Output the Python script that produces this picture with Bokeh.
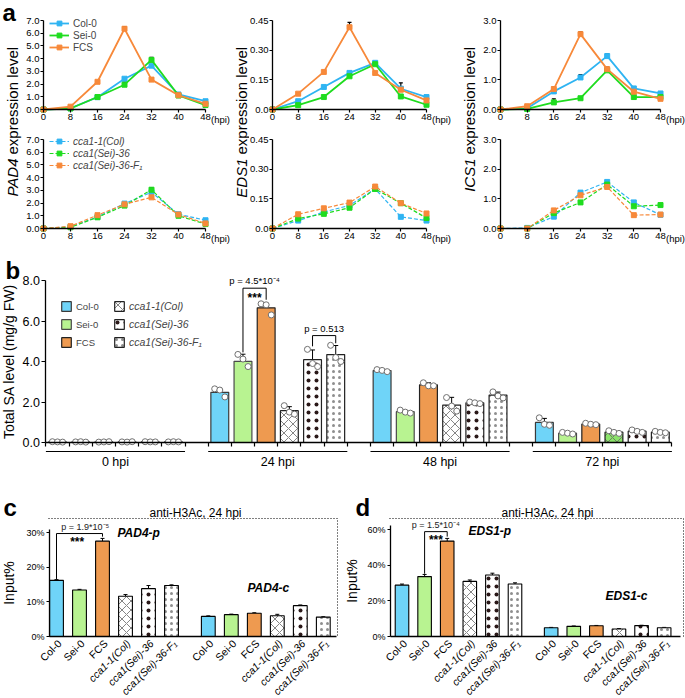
import math
from bokeh.plotting import figure
from bokeh.models import (ColumnDataSource, Label, Legend, LegendItem, Whisker, TeeHead,
                          FixedTicker, Range1d, PrintfTickFormatter, CustomJSTickFormatter)
from bokeh.layouts import row, column
from bokeh.embed import file_html
from bokeh.resources import INLINE
from bokeh.core.properties import value

# ---------------- panel a : expression time courses ----------------
hpi = [0, 8, 16, 24, 32, 40, 48]
wt_names = ["Col-0", "Sei-0", "FCS"]
mut_names = ["cca1-1(Col)", "cca1(Sei)-36", "cca1(Sei)-36-F₁"]

pad4_col0 = [0.0, 0.10, 0.97, 2.42, 3.45, 1.18, 0.65]
pad4_sei0 = [0.0, 0.08, 0.98, 1.95, 3.90, 1.10, 0.35]
pad4_fcs = [0.0, 0.22, 2.18, 6.35, 2.35, 1.12, 0.45]
pad4_col0_err = [0, 0, 0, 0.05, 0.10, 0, 0.05]
pad4_sei0_err = [0, 0, 0, 0.20, 0.20, 0, 0]
pad4_fcs_err = [0, 0, 0.05, 0.15, 0.15, 0, 0]
pad4_cca11 = [0.0, 0.13, 0.91, 1.96, 2.85, 1.12, 0.65]
pad4_sei36 = [0.0, 0.10, 0.88, 1.80, 3.05, 1.00, 0.35]
pad4_f1 = [0.0, 0.18, 1.05, 1.90, 2.45, 1.10, 0.40]
pad4_cca11_err = [0, 0, 0, 0, 0.05, 0, 0.05]
pad4_sei36_err = [0, 0, 0, 0, 0.15, 0, 0]
pad4_f1_err = [0, 0, 0, 0, 0, 0, 0]

eds1_col0 = [0.0, 0.042, 0.114, 0.185, 0.236, 0.105, 0.063]
eds1_sei0 = [0.0, 0.022, 0.063, 0.168, 0.229, 0.066, 0.024]
eds1_fcs = [0.0, 0.080, 0.190, 0.416, 0.185, 0.100, 0.046]
eds1_col0_err = [0, 0, 0.005, 0, 0, 0.030, 0]
eds1_sei0_err = [0, 0, 0, 0, 0, 0.005, 0]
eds1_fcs_err = [0, 0, 0, 0.025, 0, 0, 0]
eds1_cca11 = [0.0, 0.040, 0.083, 0.117, 0.200, 0.059, 0.040]
eds1_sei36 = [0.0, 0.050, 0.074, 0.105, 0.200, 0.128, 0.053]
eds1_f1 = [0.0, 0.072, 0.102, 0.131, 0.212, 0.128, 0.076]
eds1_cca11_err = [0, 0, 0, 0, 0, 0, 0]
eds1_sei36_err = [0, 0, 0, 0, 0, 0, 0]
eds1_f1_err = [0, 0, 0.008, 0, 0, 0, 0]

ics1_col0 = [0.0, 0.04, 0.61, 1.08, 1.80, 0.71, 0.54]
ics1_sei0 = [0.0, 0.02, 0.24, 0.38, 1.32, 0.42, 0.42]
ics1_fcs = [0.0, 0.11, 0.69, 2.54, 1.36, 0.60, 0.36]
ics1_col0_err = [0, 0, 0, 0.10, 0.08, 0, 0]
ics1_sei0_err = [0, 0, 0.12, 0, 0, 0, 0]
ics1_fcs_err = [0, 0, 0.08, 0.08, 0.07, 0, 0]
ics1_cca11 = [0.0, 0.02, 0.40, 1.21, 1.57, 0.88, 0.46]
ics1_sei36 = [0.0, 0.00, 0.52, 0.88, 1.48, 0.75, 0.79]
ics1_f1 = [0.0, 0.00, 0.61, 1.12, 1.40, 0.45, 0.47]
ics1_cca11_err = [0, 0, 0, 0, 0, 0, 0]
ics1_sei36_err = [0, 0, 0, 0, 0, 0, 0]
ics1_f1_err = [0, 0, 0, 0, 0, 0, 0]

# ---------------- panel b : total SA ----------------
sa_times = ["0 hpi", "24 hpi", "48 hpi", "72 hpi"]
sa_names = ["Col-0", "Sei-0", "FCS", "cca1-1(Col)", "cca1(Sei)-36", "cca1(Sei)-36-F₁"]
sa_col0 = [0.03, 2.48, 3.55, 0.99]
sa_sei0 = [0.03, 4.01, 1.52, 0.46]
sa_fcs = [0.03, 6.65, 2.85, 0.91]
sa_cca11 = [0.03, 1.57, 1.85, 0.51]
sa_sei36 = [0.03, 4.09, 1.96, 0.56]
sa_f1 = [0.03, 4.34, 2.34, 0.51]
sa_col0_err = [0.01, 0.12, 0.04, 0.20]
sa_sei0_err = [0.01, 0.35, 0.06, 0.04]
sa_fcs_err = [0.01, 0.18, 0.10, 0.04]
sa_cca11_err = [0.01, 0.20, 0.38, 0.05]
sa_sei36_err = [0.01, 0.48, 0.05, 0.06]
sa_f1_err = [0.01, 0.45, 0.15, 0.04]
sa_col0_reps = [[0.04, 0.03, 0.02], [2.65, 2.59, 2.25], [3.60, 3.56, 3.50], [1.22, 0.90, 0.85]]
sa_sei0_reps = [[0.03, 0.04, 0.02], [4.35, 4.12, 3.75], [1.60, 1.50, 1.45], [0.50, 0.46, 0.42]]
sa_fcs_reps = [[0.02, 0.03, 0.04], [6.85, 6.80, 6.30], [2.95, 2.80, 2.80], [0.95, 0.90, 0.88]]
sa_cca11_reps = [[0.03, 0.02, 0.04], [1.82, 1.50, 1.40], [2.22, 1.80, 1.55], [0.58, 0.50, 0.45]]
sa_sei36_reps = [[0.04, 0.03, 0.03], [4.60, 3.90, 3.75], [2.00, 1.96, 1.92], [0.62, 0.55, 0.50]]
sa_f1_reps = [[0.03, 0.04, 0.03], [4.80, 4.20, 4.00], [2.50, 2.30, 2.20], [0.55, 0.50, 0.48]]

# ---------------- panels c, d : ChIP ----------------
chip_names = ["Col-0", "Sei-0", "FCS", "cca1-1(Col)", "cca1(Sei)-36", "cca1(Sei)-36-F₁"]
pad4_p = [16.2, 13.4, 27.5, 11.6, 13.8, 14.7]
pad4_p_err = [0.2, 0.2, 0.8, 0.5, 0.9, 0.2]
pad4_c = [5.8, 6.3, 6.7, 6.0, 8.9, 5.6]
pad4_c_err = [0.15, 0.15, 0.15, 0.4, 0.2, 0.1]
eds1_p = [28.8, 33.6, 53.5, 30.9, 34.5, 29.4]
eds1_p_err = [0.6, 1.2, 1.5, 0.8, 1.0, 0.7]
eds1_c = [4.9, 5.7, 6.0, 4.2, 6.1, 4.9]
eds1_c_err = [0.2, 0.2, 0.2, 0.2, 0.2, 0.2]

# ---------------- styles ----------------
FONT = "Liberation Sans"
LINE_COLORS = ["#2FB4F2", "#1FDC1F", "#F7893A"]
BAR_FILL = ["#6FD4F8", "#B8F391", "#EE9A50", "white", "white", "white"]
BAR_LINE = ["#3a3a3a", "#4a4a4a", "#222222", "#222222", "#222222", "#222222"]
GREEN_SPECIAL = "#8BE46A"
HATCH = [None, None, None,
         dict(hatch_pattern="diagonal_cross", hatch_color="#666666", hatch_scale=9,
              hatch_weight=0.8),
         dict(hatch_pattern="dot", hatch_color="#2a1818", hatch_scale=8),
         dict(hatch_pattern="dot", hatch_color="#444444", hatch_scale=6, hatch_alpha=0.6)]


def lin_x(W, a, pa, b, pb):
    s = (pb - pa) / (b - a)
    start = a - pa / s
    return Range1d(start, start + W / s), s


def lin_y(H, a, pa, b, pb):
    # pa, pb measured from the top edge; a is drawn lower than b
    s = (pa - pb) / (b - a)
    end = a + pa / s
    return Range1d(end - H / s, end), s


def style_axis(ax, size, standoff=1, tick_out=3):
    ax.axis_line_color = "black"
    ax.axis_line_width = 1.3
    ax.major_tick_line_color = "black"
    ax.major_tick_line_width = 1.2
    ax.major_tick_out = tick_out
    ax.major_tick_in = 0
    ax.minor_tick_line_color = None
    ax.major_label_text_font = FONT
    ax.major_label_text_font_size = size
    ax.major_label_text_color = "black"
    ax.major_label_standoff = standoff


def bare_fig(W, H, **kw):
    p = figure(width=W, height=H, output_backend="svg", toolbar_location=None,
               outline_line_color=None, background_fill_color=None,
               border_fill_color=None, min_border=0, **kw)
    p.xgrid.visible = False
    p.ygrid.visible = False
    return p


def line_fig(x0, x1, fx0, fx1, y0, y1, fy0, fy1, ymax, yticks, yfmt,
             series, errs, names, dashed, legend_pos):
    W = x1 - x0
    H = y1 - y0
    xr, sx = lin_x(W, 0, fx0 - x0, 48, fx1 - x0)
    yr, sy = lin_y(H, 0, fy1 - y0, ymax, fy0 - y0)
    p = bare_fig(W, H, x_range=xr, y_range=yr)
    xa = p.xaxis[0]
    ya = p.yaxis[0]
    style_axis(xa, "9.5px")
    style_axis(ya, "9.5px")
    xa.fixed_location = 0
    ya.fixed_location = 0
    xa.bounds = (0, 48)
    ya.bounds = (0, ymax)
    xa.ticker = FixedTicker(ticks=hpi)
    ya.ticker = FixedTicker(ticks=yticks)
    ya.formatter = PrintfTickFormatter(format=yfmt)
    ya.major_label_overrides = {0: "0.0"}
    items = []
    for vals, err, color, name in zip(series, errs, LINE_COLORS, names):
        src = ColumnDataSource(dict(x=hpi, y=vals))
        ln = p.line("x", "y", source=src, line_color=color,
                    line_width=1.2 if dashed else 1.8,
                    line_dash="4 2" if dashed else "solid")
        mk = p.scatter("x", "y", source=src, marker="square", size=5,
                       fill_color=color, line_color=color)
        items.append(LegendItem(label=value(name), renderers=[ln, mk]))
        ex = [h for h, e in zip(hpi, err) if e > 0]
        if ex:
            es = ColumnDataSource(dict(
                x=ex,
                lo=[v for v, e in zip(vals, err) if e > 0],
                hi=[v + e for v, e in zip(vals, err) if e > 0]))
            p.add_layout(Whisker(source=es, base="x", lower="lo", upper="hi",
                                 dimension="height", line_color="black", line_width=1.2,
                                 upper_head=TeeHead(size=4, line_color="black", line_width=1.2),
                                 lower_head=None))
    if legend_pos is not None:
        lg = Legend(items=items, location=legend_pos, padding=0, margin=0,
                    spacing=0, glyph_width=20, glyph_height=12, label_height=12,
                    label_standoff=4, label_text_font=FONT, label_text_font_size="10px",
                    label_text_font_style="italic" if dashed else "normal",
                    background_fill_alpha=0, border_line_alpha=0)
        p.add_layout(lg)
    p.add_layout(Label(x=48 + 5.5 / sx, y=-4 / sy, text="(hpi)",
                       text_align="left", text_baseline="top", text_font=FONT,
                       text_font_size="9.5px", text_color="black"))
    return p


def gene_label_fig(x0, x1, cx, gene, letter=None):
    W = x1 - x0
    H = 248
    p = bare_fig(W, H, x_range=Range1d(0, W), y_range=Range1d(0, H),
                 x_axis_location=None, y_axis_location=None)
    ysplit = H - 158
    p.add_layout(Label(x=cx - x0, y=ysplit, text=gene, angle=math.pi / 2, text_align="right",
                       text_baseline="middle", text_font=FONT, text_font_size="15px",
                       text_font_style="italic", text_color="black"))
    p.add_layout(Label(x=cx - x0, y=ysplit + 4, text="expression level", angle=math.pi / 2,
                       text_align="left", text_baseline="middle", text_font=FONT,
                       text_font_size="15px", text_color="black"))
    if letter:
        p.add_layout(Label(x=2, y=H + 2, text=letter, text_align="left",
                           text_baseline="top", text_font=FONT, text_font_size="24px",
                           text_font_style="bold", text_color="black"))
    return p


# ---- panel a figures
TOP = (0, 125, 20, 109)
BOT = (125, 248, 139, 228)
genes = [
    ("PAD4", 0, 22, 12, (22, 232, 43, 205), 7.0, list(range(8)), "%.1f",
     [pad4_col0, pad4_sei0, pad4_fcs], [pad4_col0_err, pad4_sei0_err, pad4_fcs_err],
     [pad4_cca11, pad4_sei36, pad4_f1], [pad4_cca11_err, pad4_sei36_err, pad4_f1_err]),
    ("EDS1", 232, 249, 241, (249, 455, 272, 426), 0.45, [0, 0.15, 0.3, 0.45], "%.2f",
     [eds1_col0, eds1_sei0, eds1_fcs], [eds1_col0_err, eds1_sei0_err, eds1_fcs_err],
     [eds1_cca11, eds1_sei36, eds1_f1], [eds1_cca11_err, eds1_sei36_err, eds1_f1_err]),
    ("ICS1", 455, 482, 469, (482, 685, 500, 660), 3.0, [0, 1, 2, 3], "%.1f",
     [ics1_col0, ics1_sei0, ics1_fcs], [ics1_col0_err, ics1_sei0_err, ics1_fcs_err],
     [ics1_cca11, ics1_sei36, ics1_f1], [ics1_cca11_err, ics1_sei36_err, ics1_f1_err]),
]
row_a = []
for gi, (gene, lx0, lx1, cx, (x0, x1, fx0, fx1), ymax, yt, fmt, wt, wte, mu, mue) in enumerate(genes):
    row_a.append(gene_label_fig(lx0, lx1, cx, gene, "a" if gi == 0 else None))
    top = line_fig(x0, x1, fx0, fx1, *TOP, ymax, yt, fmt, wt, wte,
                   wt_names, False, (49 - x0, 125 - 53) if gi == 0 else None)
    bot = line_fig(x0, x1, fx0, fx1, *BOT, ymax, yt, fmt, mu, mue,
                   mut_names, True, (49 - x0, 248 - 171) if gi == 0 else None)
    row_a.append(column(top, bot))

# ---- panel b  (figure spans page y 248..470)
bW, bH = 685, 222
GROUP = 7
SLOT = 23.185
bxr, bsx = lin_x(bW, 0, 57, 26, 57 + 26 * SLOT)
byr, bsy = lin_y(bH, 0, 442 - 248, 8, 280 - 248)
pb = bare_fig(bW, bH, x_range=bxr, y_range=byr)
sa_vals = [sa_col0, sa_sei0, sa_fcs, sa_cca11, sa_sei36, sa_f1]
sa_errs = [sa_col0_err, sa_sei0_err, sa_fcs_err, sa_cca11_err, sa_sei36_err, sa_f1_err]
sa_reps = [sa_col0_reps, sa_sei0_reps, sa_fcs_reps, sa_cca11_reps, sa_sei36_reps, sa_f1_reps]
REP_OFF = [-0.22, 0.0, 0.22]
bar_r = []
for j, name in enumerate(sa_names):
    xs = [t * GROUP + j for t in range(len(sa_times))]
    fills = [BAR_FILL[j]] * len(sa_times)
    if j == 3:
        fills[3] = GREEN_SPECIAL
    src = ColumnDataSource(dict(x=xs, top=sa_vals[j], fill=fills))
    kw = HATCH[j] or {}
    r = pb.vbar(x="x", top="top", bottom=0, width=0.77, source=src, fill_color="fill",
                line_color=BAR_LINE[j], line_width=1.2, **kw)
    bar_r.append(r)
    es = ColumnDataSource(dict(x=xs, lo=sa_vals[j],
                               hi=[v + e for v, e in zip(sa_vals[j], sa_errs[j])]))
    pb.add_layout(Whisker(source=es, base="x", lower="lo", upper="hi", dimension="height",
                          line_color="black", line_width=1,
                          upper_head=TeeHead(size=5, line_color="black", line_width=1),
                          lower_head=None))
    rx, ry = [], []
    for t in range(len(sa_times)):
        for k, v in enumerate(sa_reps[j][t]):
            rx.append(xs[t] + REP_OFF[k])
            ry.append(v)
    pb.scatter(rx, ry, marker="circle", size=6, fill_color="white", line_color="#707070",
               line_width=1)

xa = pb.xaxis[0]
ya = pb.yaxis[0]
style_axis(xa, "11px", standoff=3, tick_out=4)
style_axis(ya, "12.5px", standoff=2, tick_out=4)
xa.fixed_location = 0
xa.bounds = (-0.5, 26.5)
xa.ticker = FixedTicker(ticks=[t * GROUP + j - 0.5 for t in range(4) for j in range(7)])
xa.formatter = CustomJSTickFormatter(code="return ''")
ya.fixed_location = -0.5
ya.ticker = FixedTicker(ticks=[0, 2, 4, 6, 8])
ya.formatter = PrintfTickFormatter(format="%.1f")
ya.bounds = (0, 8)
ya.axis_label = "Total SA level (mg/g FW)"
ya.axis_label_text_font = FONT
ya.axis_label_text_font_size = "14px"
ya.axis_label_text_font_style = "normal"
ya.axis_label_standoff = 2
ya.axis_label_text_color = "black"

gsrc = ColumnDataSource(dict(x0=[t * GROUP - 0.5 for t in range(4)],
                             x1=[t * GROUP + 5.5 for t in range(4)],
                             xc=[t * GROUP + 2.5 for t in range(4)],
                             y=[-9 / bsy] * 4, yt=[-12 / bsy] * 4, t=sa_times))
pb.segment(x0="x0", y0="y", x1="x1", y1="y", source=gsrc, line_color="black", line_width=1.2)
pb.text(x="xc", y="yt", text="t", source=gsrc, text_font=value(FONT),
        text_font_size="12.5px", text_align="center", text_baseline="top", text_color="black")

# significance brackets
s1a, s1b = 1 * GROUP + 1, 1 * GROUP + 2
pb.multi_line([[s1a, s1a, s1b, s1b]], [[4.45, 7.62, 7.62, 7.05]], line_color="black",
              line_width=1)
pb.add_layout(Label(x=(s1a + s1b) / 2, y=7.5, text="***", text_align="center",
                    text_baseline="top", text_font=FONT, text_font_size="12px",
                    text_font_style="bold", text_color="black"))
pb.add_layout(Label(x=(s1a + s1b) / 2, y=7.72, text="p = 4.5*10⁻⁴", text_align="center",
                    text_baseline="bottom", text_font=FONT, text_font_size="9.5px",
                    text_color="black"))
s2a, s2b = 1 * GROUP + 4, 1 * GROUP + 5
pb.multi_line([[s2a, s2a, s2b, s2b]], [[4.75, 5.28, 5.28, 4.9]], line_color="black",
              line_width=1)
pb.add_layout(Label(x=(s2a + s2b) / 2, y=5.38, text="p = 0.513", text_align="center",
                    text_baseline="bottom", text_font=FONT, text_font_size="9.5px",
                    text_color="black"))
pb.add_layout(Label(x=(5 - 57) / bsx, y=(442 - 270) / bsy, text="b",
                    text_align="left", text_baseline="alphabetic", text_font=FONT,
                    text_font_size="24px", text_font_style="bold", text_color="black"))

lg_common = dict(padding=0, margin=0, spacing=6, glyph_width=12, glyph_height=12,
                 label_height=12, label_standoff=4, label_text_font=FONT,
                 background_fill_alpha=0, border_line_alpha=0)
lg1 = Legend(items=[LegendItem(label=value(sa_names[j]), renderers=[bar_r[j]], index=0)
                    for j in range(3)],
             location=(60, 470 - 348), label_text_font_size="9.5px", **lg_common)
lg2 = Legend(items=[LegendItem(label=value(sa_names[j]), renderers=[bar_r[j]], index=0)
                    for j in range(3, 6)],
             location=(113, 470 - 348), label_text_font_size="10.5px",
             label_text_font_style="italic", **lg_common)
pb.add_layout(lg1)
pb.add_layout(lg2)

# ---- panels c, d  (figures span page y 470..697)
CHIP_GAP = 6.6
CHIP_H = 227


def chip_fig(letter, x0, x1, c0, spacing, frame_l, frame_r, axis_r, zero_py, ref_val,
             ref_py, ybound, yticks, groups, gerrs, tags, title_px, letter_px, sig,
             label_standoff):
    W = x1 - x0
    xr, sx = lin_x(W, 0, c0 - x0, 1, c0 - x0 + spacing)
    yr, sy = lin_y(CHIP_H, 0, zero_py - 470, ref_val, ref_py - 470)
    p = bare_fig(W, CHIP_H, x_range=xr, y_range=yr)

    def dx(px):
        return (px - c0) / sx

    def dy(py):
        return (zero_py - py) / sy

    # dotted frame (top and right edges)
    p.line([dx(frame_l), dx(frame_r), dx(frame_r)], [dy(518), dy(518), 0],
           line_color="black", line_width=1, line_dash="1 2")
    lab_x, lab_y, lab_t, lab_s = [], [], [], []
    for g, (vals, errs) in enumerate(zip(groups, gerrs)):
        xs = [j + g * CHIP_GAP for j in range(len(chip_names))]
        for j in range(len(chip_names)):
            kw = HATCH[j] or {}
            p.vbar(x=[xs[j]], top=[vals[j]], bottom=0, width=0.6, fill_color=BAR_FILL[j],
                   line_color="black", line_width=1.1, **kw)
        es = ColumnDataSource(dict(x=xs, lo=vals, hi=[v + e for v, e in zip(vals, errs)]))
        p.add_layout(Whisker(source=es, base="x", lower="lo", upper="hi", dimension="height",
                             line_color="black", line_width=1,
                             upper_head=TeeHead(size=4, line_color="black", line_width=1),
                             lower_head=None))
        for j, name in enumerate(chip_names):
            lab_x.append(xs[j] + 3 / sx)
            lab_y.append(-5 / sy)
            lab_t.append(name)
            lab_s.append("italic" if name.startswith("cca1") else "normal")
    p.text(x=lab_x, y=lab_y, text=lab_t, text_font_style=lab_s, angle=math.radians(45),
           text_align="right", text_baseline="middle", text_font=value(FONT),
           text_font_size="10.5px", text_color="black")
    xa = p.xaxis[0]
    ya = p.yaxis[0]
    style_axis(xa, "9px", tick_out=0)
    style_axis(ya, "9px", standoff=2, tick_out=3)
    xa.fixed_location = 0
    xa.bounds = (dx(frame_l + 1), dx(axis_r))
    xa.ticker = FixedTicker(ticks=[])
    ya.fixed_location = dx(frame_l + 1)
    ya.ticker = FixedTicker(ticks=yticks)
    ya.major_label_overrides = {t: f"{t}%" for t in yticks}
    ya.bounds = (0, ybound)
    ya.axis_label = "Input%"
    ya.axis_label_text_font = FONT
    ya.axis_label_text_font_size = "14px"
    ya.axis_label_text_font_style = "normal"
    ya.axis_label_standoff = label_standoff
    ya.axis_label_text_color = "black"
    p.add_layout(Label(x=dx(title_px), y=dy(512), text="anti-H3Ac, 24 hpi",
                       text_align="center", text_baseline="middle", text_font=FONT,
                       text_font_size="12px", text_color="black"))
    p.add_layout(Label(x=dx(letter_px), y=dy(507), text=letter,
                       text_align="left", text_baseline="alphabetic", text_font=FONT,
                       text_font_size="24px", text_font_style="bold", text_color="black"))
    for txt, tx, ty in tags:
        p.add_layout(Label(x=dx(tx), y=dy(ty), text=txt, text_align="left",
                           text_baseline="middle", text_font=FONT, text_font_size="12px",
                           text_font_style="bold italic", text_color="black"))
    (sa, sb), ys, ptxt, (px_, py_), (stx, sty) = sig
    p.multi_line([[sa, sa, sb, sb]], [ys], line_color="black", line_width=1)
    p.add_layout(Label(x=px_, y=py_, text=ptxt, text_align="center", text_baseline="bottom",
                       text_font=FONT, text_font_size="9px", text_color="#222222"))
    p.add_layout(Label(x=stx, y=sty, text="***", text_align="center", text_baseline="top",
                       text_font=FONT, text_font_size="12px", text_font_style="bold",
                       text_color="black"))
    return p


pc = chip_fig("c", 0, 340, 56, 23.0, 48, 337, 336, 636, 30, 532, 31, [0, 10, 20, 30],
              [pad4_p, pad4_c], [pad4_p_err, pad4_c_err],
              [("PAD4-p", 117, 532), ("PAD4-c", 247, 587)], 195, 3,
              ((0, 2), [16.6, 29.7, 29.7, 28.8], "p = 1.9*10⁻⁵", (1.25, 30.1), (0.9, 29.3)),
              6)
pd = chip_fig("d", 340, 685, 401.5, 22.6, 389, 683, 680, 636, 60, 529, 62, [0, 20, 40, 60],
              [eds1_p, eds1_c], [eds1_p_err, eds1_c_err],
              [("EDS1-p", 468, 530), ("EDS1-c", 605, 595)], 547, 355,
              ((1, 2), [35.2, 58.8, 58.8, 56.0], "p = 1.5*10⁻⁴", (1.5, 59.6), (1.5, 58.3)),
              4)

layout = column(row(*row_a), pb, row(pc, pd))
open("out.html", "w").write(file_html(layout, INLINE))
